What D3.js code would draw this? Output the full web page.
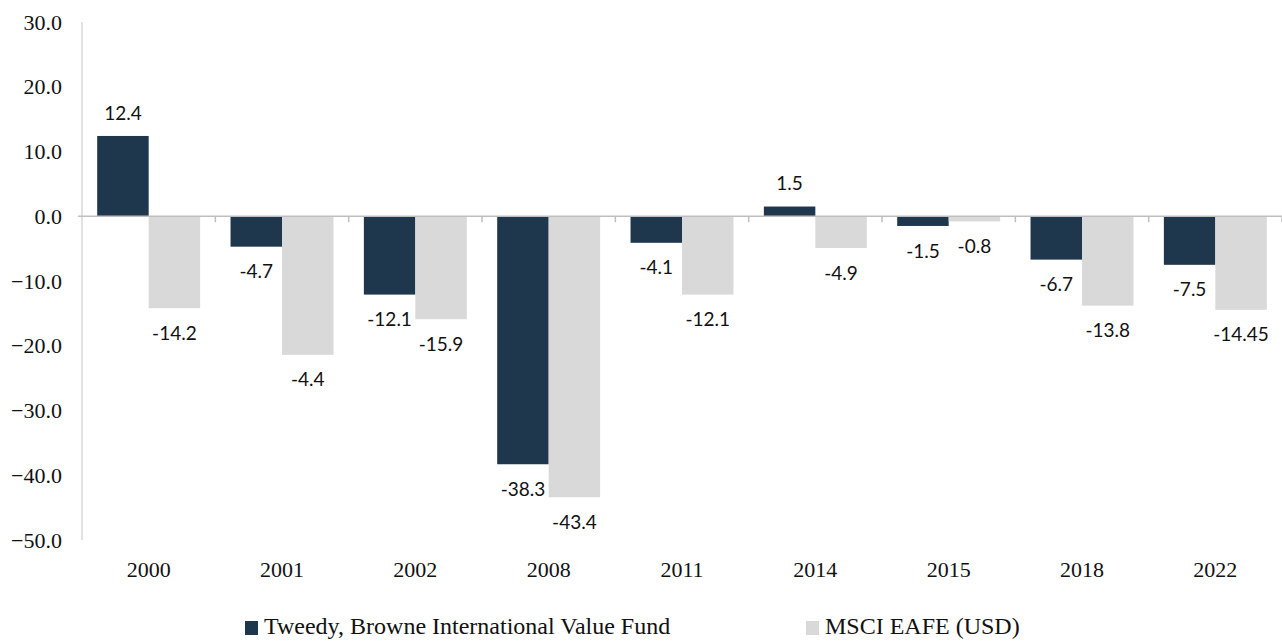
<!DOCTYPE html>
<html>
<head>
<meta charset="utf-8">
<script src="https://cdn.jsdelivr.net/npm/d3@7"></script>
<style>
  body { margin: 0; background: #fff; }
  svg { display: block; }
</style>
</head>
<body>
<svg width="1282" height="641"></svg>
<script>
const years = ["2000", "2001", "2002", "2008", "2011", "2014", "2015", "2018", "2022"];
const fundValues = [12.4, -4.7, -12.1, -38.3, -4.1, 1.5, -1.5, -6.7, -7.5];
const indexValues = [-14.2, -21.4, -15.9, -43.4, -12.1, -4.9, -0.8, -13.8, -14.45];
const fundLabels = ["12.4", "-4.7", "-12.1", "-38.3", "-4.1", "1.5", "-1.5", "-6.7", "-7.5"];
const indexLabels = ["-14.2", "-4.4", "-15.9", "-43.4", "-12.1", "-4.9", "-0.8", "-13.8", "-14.45"];
const seriesNames = ["Tweedy, Browne International Value Fund", "MSCI EAFE (USD)"];
const yTicks = [30, 20, 10, 0, -10, -20, -30, -40, -50];

const colors = ["#1f374d", "#d9d9d9"];
const serif = "'Liberation Serif', 'Times New Roman', serif";
const sans = "Lato, 'Noto Sans', sans-serif";

const svg = d3.select("svg");
const plot = { left: 82, right: 1282, top: 22, bottom: 540 };

const x = d3.scaleBand().domain(years).range([plot.left, plot.right]).paddingInner(0).paddingOuter(0);
const y = d3.scaleLinear().domain([-50, 30]).range([plot.bottom, plot.top]);

const series = [
  { name: seriesNames[0], values: fundValues, labels: fundLabels },
  { name: seriesNames[1], values: indexValues, labels: indexLabels }
];

const groupW = x.bandwidth() * 0.772;
const x1 = d3.scaleBand().domain([0, 1]).range([0, groupW]);

// y axis line
svg.append("line")
  .attr("x1", plot.left).attr("x2", plot.left)
  .attr("y1", plot.top).attr("y2", plot.bottom)
  .attr("stroke", "#d9d9d9").attr("stroke-width", 1.5);

// y tick labels
svg.selectAll(".ytick")
  .data(yTicks)
  .enter().append("text")
  .attr("x", 62)
  .attr("y", d => y(d))
  .attr("dy", "0.35em")
  .attr("text-anchor", "end")
  .style("font-family", serif)
  .style("font-size", "22px")
  .attr("fill", "#111")
  .text(d => d3.format(".1f")(d));

// bars
series.forEach((s, i) => {
  svg.selectAll(".bar" + i)
    .data(years)
    .enter().append("rect")
    .attr("x", (d, j) => x(d) + (x.bandwidth() - groupW) / 2 + x1(i))
    .attr("width", x1.bandwidth())
    .attr("y", (d, j) => y(Math.max(0, s.values[j])))
    .attr("height", (d, j) => Math.abs(y(s.values[j]) - y(0)))
    .attr("fill", colors[i]);

  svg.selectAll(".lab" + i)
    .data(years)
    .enter().append("text")
    .attr("x", (d, j) => x(d) + (x.bandwidth() - groupW) / 2 + x1(i) + x1.bandwidth() / 2)
    .attr("y", (d, j) => y(s.values[j]) + (s.values[j] >= 0 ? -23 : 25))
    .attr("dy", "0.35em")
    .attr("text-anchor", "middle")
    .style("font-family", sans)
    .style("font-size", "19px")
    .attr("fill", "#111")
    .text((d, j) => s.labels[j]);
});

// zero line with category ticks
svg.append("line")
  .attr("x1", plot.left - 4).attr("x2", plot.right)
  .attr("y1", y(0)).attr("y2", y(0))
  .attr("stroke", "#bfbfbf").attr("stroke-width", 1.5);

svg.selectAll(".xtick")
  .data(years.slice(1).concat(["end"]))
  .enter().append("line")
  .attr("x1", (d, j) => plot.left + x.bandwidth() * (j + 1))
  .attr("x2", (d, j) => plot.left + x.bandwidth() * (j + 1))
  .attr("y1", y(0)).attr("y2", y(0) + 6)
  .attr("stroke", "#bfbfbf").attr("stroke-width", 1.5);

// year labels
svg.selectAll(".year")
  .data(years)
  .enter().append("text")
  .attr("x", d => x(d) + x.bandwidth() / 2)
  .attr("y", 569)
  .attr("dy", "0.35em")
  .attr("text-anchor", "middle")
  .style("font-family", serif)
  .style("font-size", "22px")
  .attr("fill", "#111")
  .text(d => d);

// legend
const legendX = [245, 806];
series.forEach((s, i) => {
  const g = svg.append("g").attr("transform", "translate(" + legendX[i] + ",627)");
  g.append("rect")
    .attr("x", 0).attr("y", -6)
    .attr("width", 13).attr("height", 14)
    .attr("fill", colors[i]);
  g.append("text")
    .attr("x", 19).attr("y", 0)
    .attr("dy", "0.3em")
    .style("font-family", serif)
    .style("font-size", "24px")
    .attr("fill", "#111")
    .text(s.name);
});
</script>
</body>
</html>
